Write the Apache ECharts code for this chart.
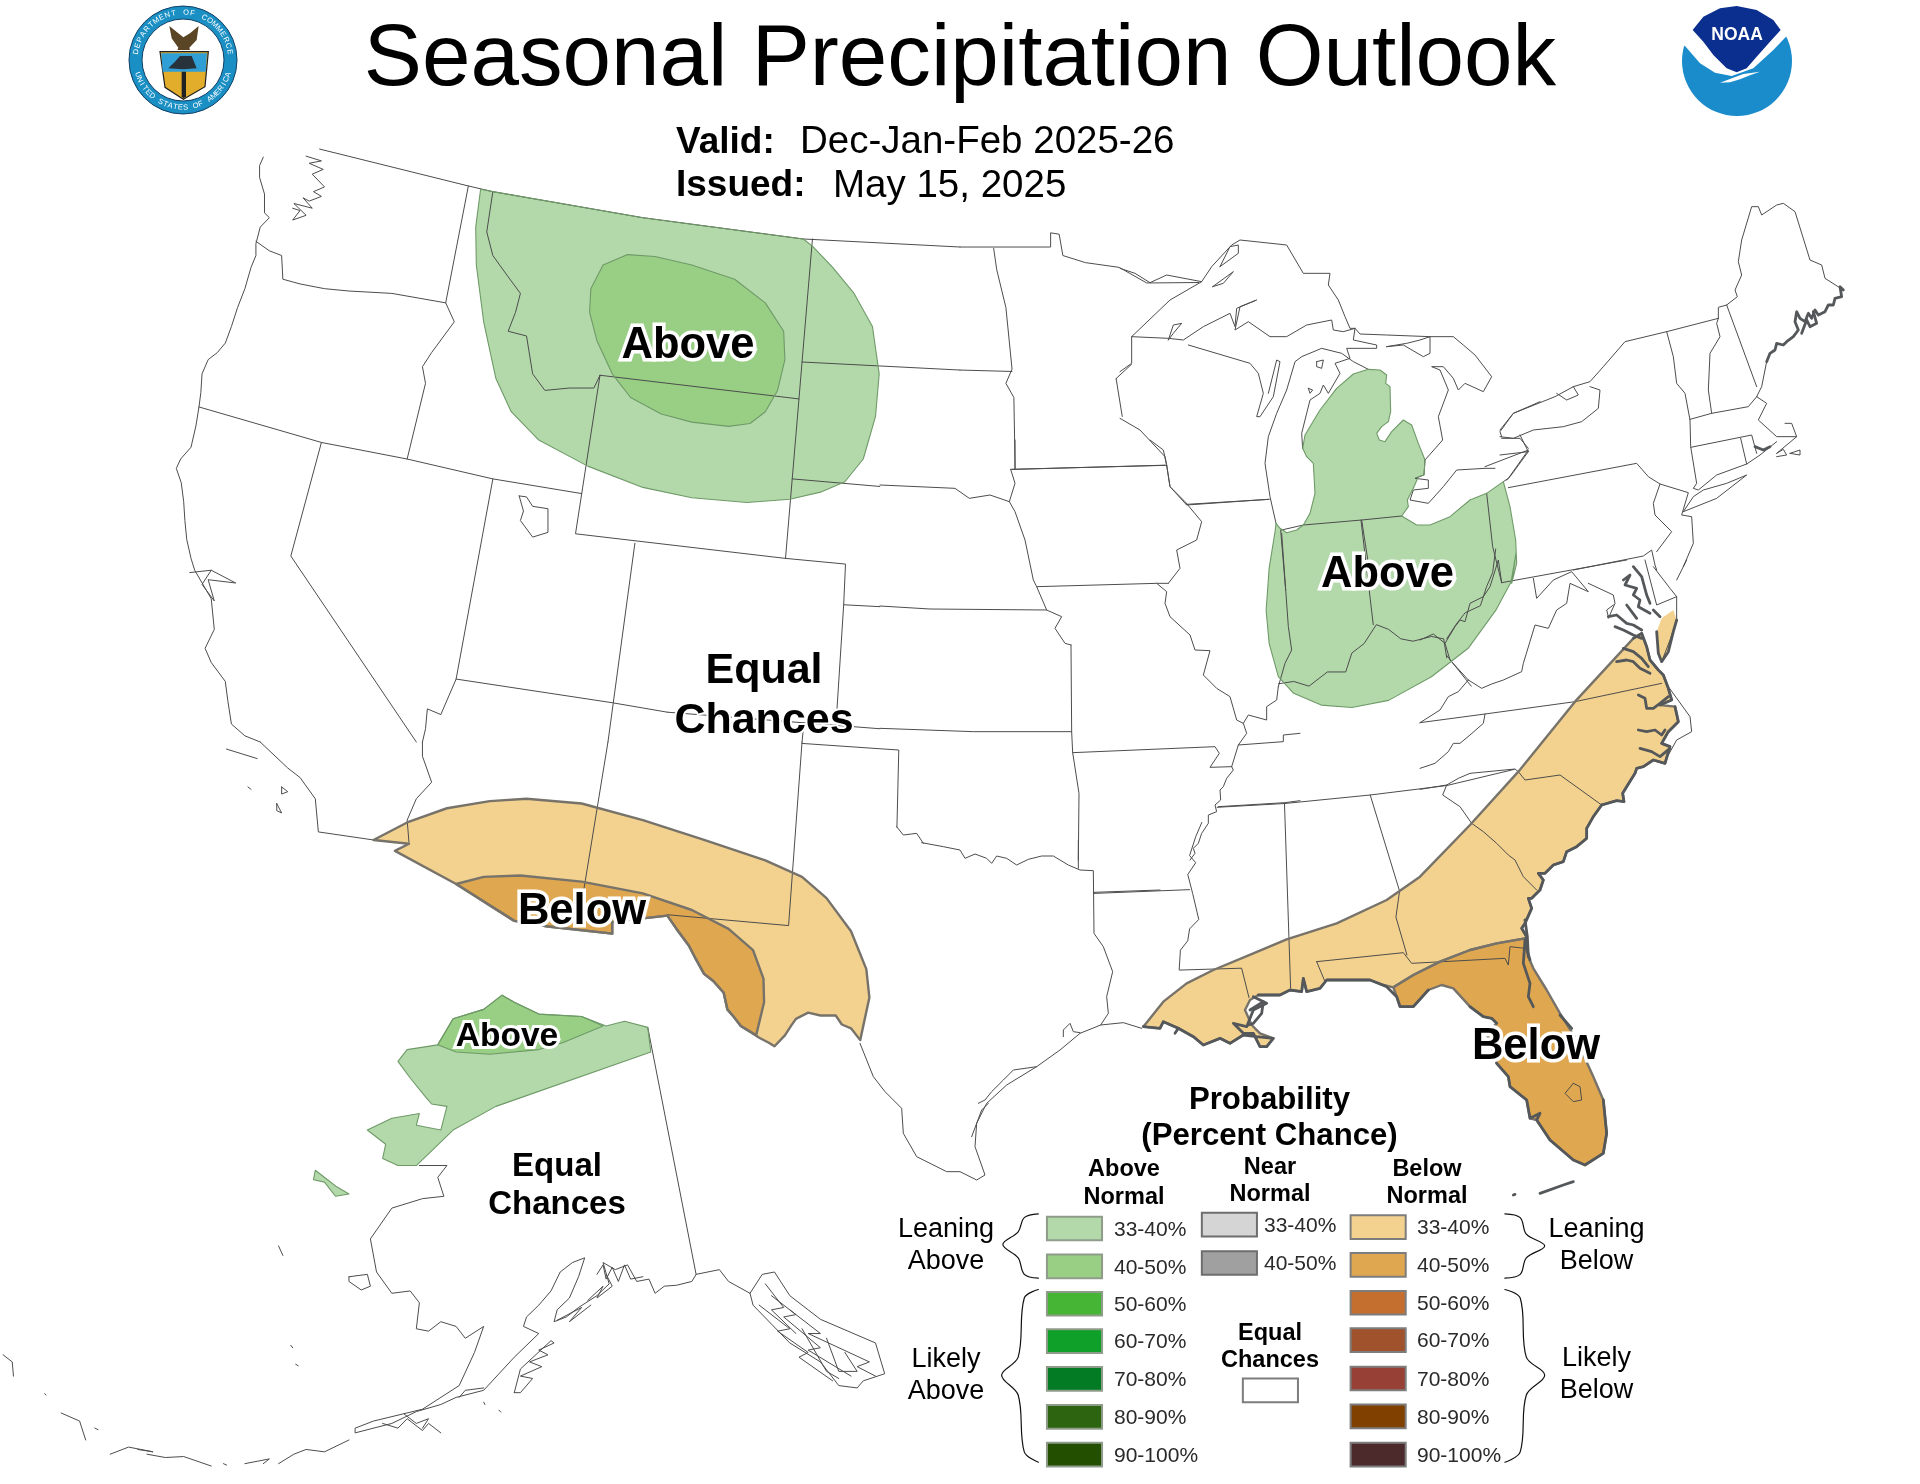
<!DOCTYPE html>
<html><head><meta charset="utf-8">
<style>html,body{margin:0;padding:0;background:#fff}#c{width:1920px;height:1484px}</style>
<script src="https://cdn.jsdelivr.net/npm/echarts@6/dist/echarts.min.js"></script>
</head><body><div id="c"></div>
<script>
// ---------- legend values ----------
const aboveBins=['33-40%','40-50%','50-60%','60-70%','70-80%','80-90%','90-100%'];
const nearBins=['33-40%','40-50%'];
const belowBins=['33-40%','40-50%','50-60%','60-70%','70-80%','80-90%','90-100%'];
const aboveColors=['#b3d9ab','#98cf85','#46b435','#0ea028','#037b25','#2c6410','#234f00'];
const nearColors=['#d5d5d5','#a0a0a0'];
const belowColors=['#f3d28f','#dfa74f','#c46f2f','#a0522d','#964036','#7f4000','#4c2a2c'];
const aboveRows=[1003,1083,1162,1241,1321,1401,1481];
const nearRows=[995,1076];
const belowRows=[1000,1080,1160,1239,1320,1400,1481];
// ---------- trace frames: [originX, originY, scaleX, scaleY] ----------
const SX=960/1568, SY=742/1568;
const frames={A:[0,0,SX,SY],B:[960,0,SX,SY],C:[0,742,SX,SY],D:[960,742,SX,SY],
 G:[1120,230,1/3,1/3],N:[1500,190,1/3,1/3],E:[1420,560,1/3,1/3],F:[1120,900,1/3,1/3],T:[860,840,1/3,1/3],M:[880,440,1/3,1/3],
 S:[100,0,1/3,1/3],O:[1660,0,1/3,1/3]};
// ---------- outlook areas ----------
const rioGrandeBigBend=[1405,630,1390,605,1375,597,1365,578,1340,578,1320,572,1300,585,1292,600,1282,620,1265,643,1255,635,1240,625];
const rioGrandeUpper=[1225,612,1210,600,1198,580,1188,565,1182,530,1165,505,1150,490,1135,455,1125,430,1105,395,1090,367];
const aboveNorth33=[['A',[785,400,777,480,778,560,790,680,810,800,835,870,880,930,960,985,1050,1030,1130,1052,1220,1062,1290,1055,1340,1040,1380,1018,1410,970,1430,880,1436,790,1425,690,1395,620,1360,565,1327,520,1312,505,1050,460,805,405]]];
const aboveNorth40=[['A',[1025,538,985,560,965,610,963,660,975,720,1000,790,1030,840,1080,875,1130,892,1190,901,1225,895,1250,870,1270,825,1282,760,1280,700,1250,640,1200,590,1130,560,1070,542]]];
const aboveLakes33=[['G',[555,615,600,540,650,475,700,432,745,418,780,420,800,435,797,460,810,470,812,545,805,575,785,590,770,610,778,630,795,635,815,605,850,570,875,585,895,640,915,690,912,735,895,740,880,775,862,810,865,830,845,858,890,885,930,885,990,860,1050,810,1100,790,1150,755,1170,830,1187,930,1190,1000,1175,1060]],
 ['B',[908,1170,900,1230,875,1290,830,1370,770,1430,700,1480,640,1495,590,1490,545,1465,520,1430,505,1360,500,1290,505,1200,515,1120]],
 ['G',[468,880,480,895,500,908,530,900,550,885,570,850,585,790,580,700,560,680,548,655]]];
const aboveAlaska33=[['C',[1058,603,1063,655,810,770,740,820,680,895,650,895,625,880,630,850,600,820,640,795,685,785,680,810,720,820,730,770,705,765,695,750,670,710,650,675,665,650,715,640,740,585,790,565,820,535,840,550,880,575,950,580,990,600,1020,590]]];
const aboveAlaska40=[['C',[715,640,740,585,790,565,820,535,840,550,880,575,950,580,985,600,920,635,880,650,800,660,745,655]]];
const aboveIsland33=[['C',[515,905,535,925,550,940,570,955,548,960,530,930,512,925]]];
const belowSW33=[['C',[610,207,665,170,730,140,800,125,860,120,950,130,1050,165,1150,207,1250,250,1310,285,1350,330,1390,400,1415,480,1420,540,...rioGrandeBigBend,...rioGrandeUpper,1000,380,1000,405,895,390,840,378,745,300,645,230,668,215]]];
const belowSW40=[['C',[745,300,790,285,850,282,950,295,1050,320,1130,355,1190,395,1230,440,1247,500,1248,550,1235,620,...rioGrandeUpper,1000,380,1000,405,895,390,840,378]]];
const belowSE33=[['E',[640,235,665,220,680,260,690,300,715,330,730,345,745,385,755,420,720,435,765,440,775,485,745,515,725,550,750,560,735,610,700,600,670,620,650,625,645,640,620,680,608,700,612,725,590,722,545,735,520,770,500,805,500,835,470,860,440,875,430,905,400,915,375,940,355,940,370,960,360,990,335,1015,325,1015,335,1045,315,1090,305,1105,320,1130]],
 ['F',[1215,115,1130,130,1050,150,960,185,880,225,820,262,790,255,750,240,690,240,640,240,620,240,600,265,560,275,550,235,545,275,510,270,480,285,415,285,390,300,375,330,395,375,420,400,460,415,440,440,420,440,400,400,370,405,330,430,300,415,250,435,220,410,175,385,130,365,120,385,70,380,130,305,200,250,280,210,400,160,500,118,650,70,800,0]],
 ['E',[0,950,150,795,295,635,465,425]]];
const belowDelmarva33=[['E',[760,150,725,175,710,215,715,280,725,305,745,275,760,215,770,180]]];
const belowFL40=[['F',[820,262,880,225,960,185,1050,150,1130,130,1215,115,1225,170,1240,205,1280,270,1320,340,1370,420,1420,530,1450,600,1460,700,1450,760,1395,795,1360,780,1290,720,1250,660,1230,655,1220,600,1170,560,1165,530,1130,490,1100,400,1130,370,1115,355,1090,350,1050,320,1000,265,965,255,925,270,880,320,840,320,830,290]]];
// ---------- thin borders and shorelines ----------
const thinLines=[
 ['A',[430,332,424,350,424,375,432,410,432,450,440,460,425,480,418,515,418,540,410,565,400,610,388,650,378,690,368,725,355,745,340,760,330,790,328,830,325,860,320,900,312,945,295,970,288,990,296,1020,300,1060,302,1100,305,1140,312,1180,318,1205,345,1265,350,1330,335,1370,345,1400,368,1440,372,1480,378,1530,400,1555,425,1568]],
 ['C',[425,0,470,55,490,75,515,120,520,190,610,207,668,215]],
 ['A',[418,510,440,530,460,540,462,590,490,600,530,610,570,615,640,620,728,640,742,680,705,745,690,775,695,810,665,970]],
 ['A',[522,315,765,393,805,405,1050,460,1312,505,1568,522]],
 ['B',[0,522,148,522,148,492,162,495,168,540,205,555,260,565,305,598,390,597]],
 ['A',[765,393,728,640]],
 ['A',[325,860,525,935,665,970,805,1012,950,1043]],
 ['A',[525,935,475,1175,680,1568]],
 ['A',[805,1012,745,1435,720,1510,698,1498,695,1540,690,1568]],
 ['C',[690,0,690,30,705,85,680,120,665,165,668,212]],
 ['A',[745,1435,1000,1485,1090,1505]],['A',[1090,1505,1437,1540]],['M',[0,865,280,875,575,875]],
 ['A',[805,405,795,490,805,540,830,585,850,620,842,660,830,700,860,710,870,790,890,825,930,820,970,820,980,793]],
 ['A',[980,793,1305,843,1283,1180,940,1128,980,793]],
 ['A',[1037,1148,993,1568]],['C',[993,0,945,380]],
 ['A',[1283,1180,1381,1192,1378,1278,1365,1540]],
 ['A',[1327,505,1310,765,1305,843]],
 ['A',[1310,765,1568,782]],['B',[0,782,85,785]],
 ['A',[1294,1012,1437,1028]],['M',[0,135,225,145,268,175,330,165,388,185]],
 ['A',[1378,1278,1437,1282]],['M',[0,498,150,507,500,510]],
 ['A',[1313,1528,1310,1568]],['C',[1310,0,1288,388,1090,365]],
 ['C',[1310,3,1468,17,1465,180]],
 ['M',[50,1160,70,1185,110,1180,130,1210]],
 ['T',[185,8,250,20,300,30,315,55,345,42,380,55,395,70,410,48,440,55,470,75,505,58,545,48,580,48,625,75,660,90,700,92,702,280,730,320,758,395,740,470,745,520,722,555,660,580,600,630,530,680,440,735,380,790,350,850,345,920,375,1005,350,1020,300,995,260,995,170,950,130,880,125,805,75,755,40,710,0,610]],
 ['T',[722,555,790,548,845,565]],
 ['T',[655,0,655,85]],
 ['T',[610,590,610,570,630,550,640,575,660,578]],
 ['T',[355,790,375,780,395,755,430,720,460,690,530,680]],
 ['T',[335,890,350,850,365,810,385,790]],
 ['M',[573,615,575,875,578,938,597,1060,595,1260]],
 ['M',[578,938,1005,920,1018,940,990,982,1055,980]],
 ['T',[700,157,900,150]],['D',[218,320,375,312]],
 ['M',[1055,980,1060,990,1040,1015,1030,1040,1020,1050,1022,1080,1005,1095,1010,1115,985,1125,985,1150,965,1180,955,1210,940,1225,945,1240,930,1260]],
 ['D',[395,170,385,200,375,240,385,255,372,280,380,320,390,375,375,395,372,420,360,440,358,482,460,478,472,540]],
 ['M',[1075,915,1210,905,1210,885,1260,880]],['E',[0,488,195,462,465,425,725,370]],
 ['M',[1015,1100,1215,1088,1260,1082]],['D',[420,138,530,130,670,112,795,92,905,58]],
 ['D',[530,130,540,520]],['D',[670,112,718,315,712,370,730,450]],
 ['F',[590,185,850,158,875,190,1155,175,1165,195,1170,140,1215,145]],['F',[590,185,615,245]],
 ['E',[155,790,190,815,230,850,265,885,285,900,310,950,350,990]],
 ['E',[295,635,315,660,420,645,545,735]],
 ['E',[0,688,80,675,115,655,150,640,285,627,295,635]],
 ['E',[80,675,68,705,120,740,155,790]],
 ['E',[0,625,45,610,85,575,100,550,120,550,150,525,190,490,195,462]],
 ['E',[0,488,60,450,85,410,115,395,145,360]],
 ['E',[145,360,90,300,75,250,40,222,0,240]],
 ['E',[145,360,185,385,215,372,250,360,305,335,310,310,345,195,385,205,410,150,440,130,450,70,505,95,455,35,400,60,350,115,340,55]],
 ['E',[505,70,580,105,585,130,565,175]],
 ['E',[245,68,620,0]],
 ['E',[75,250,105,200,120,180,135,185,150,130,190,110,210,80,235,0,245,68]],
 ['G',[1100,790,1118,950,1145,1058]],
 ['M',[830,430,860,455,855,490,870,530,930,585,945,630,990,632,970,705,1010,745,1050,770,1070,840,1090,850,1100,880,1075,915,1055,980]],
 ['M',[1090,850,1105,825,1160,840,1160,800,1190,780,1195,740]],
 ['M',[470,440,830,430,865,430]],
 ['M',[392,88,860,76]],
 ['M',[392,88,405,130,388,185,405,215,435,300,460,420,470,440,500,510,545,530,525,565,555,610,573,615]],
 ['M',[860,76,870,140,915,185,965,245,950,300,890,330,900,385,865,430]],
 ['M',[810,0,850,30,860,76]],
 ['M',[405,0,405,88]],
 ['M',[920,193,1168,178]],
 ['B',[55,525,60,570,75,650,85,780,75,810,88,840,90,990]],
 ['B',[85,992,335,983]],
 ['G',[35,320,35,400,0,425]],['B',[255,800,265,880]],['G',[0,565,60,600,135,680,140,705,150,770,200,825,445,808]],['B',[280,770,255,800]],
 ['G',[482,900,497,1080]],['M',[1205,280,1225,560,1235,630,1215,670,1195,740]],
 ['G',[725,870,745,1000]],['B',[655,1100,675,1320]],
 ['G',[485,900,550,885,725,870,845,858]],
 ['B',[520,1445,545,1440,570,1450,600,1420,630,1420,640,1380,660,1360,680,1320,700,1330,720,1350,740,1355,770,1345,790,1350,795,1390]],
 ['B',[795,1350,810,1320,825,1295,850,1280,860,1240,870,1210,875,1160]],
 ['B',[795,1385,835,1450]],
 ['G',[0,115,45,130,90,158,140,135,245,155,275,110,335,45,360,30,500,45,550,130,630,130,625,165,655,210,675,260,690,295,705,295,720,312,800,315,930,320,1000,320,1030,345,1065,375,1115,440,1090,485,1035,460,1015,480,1000,445,970,410,935,410,960,420,985,480,955,560,968,630,915,690]],
 ['G',[245,155,150,210,35,320,145,325,190,330,250,290,330,250,345,290,350,235,410,210,360,230,345,300,385,275,450,320,500,320,560,285,635,270,640,300,670,305,705,295]],
 ['G',[205,345,390,400,415,430,430,490,410,560,420,560,460,500,480,395,470,390,445,490]],
 ['G',[278,170,340,125,310,160,278,170]],
 ['G',[300,110,330,50,355,45,355,70,300,110]],
 ['G',[145,330,160,285,185,280,160,310,145,330]],
 ['G',[468,880,450,800,435,700,445,620,470,550,500,480,525,395,545,380,605,355,665,370,700,395,745,418]],
 ['G',[548,655,545,610,570,510,600,490,610,465,625,490,660,430,645,400,690,385,680,355,770,355,770,345,700,330,705,295]],
 ['G',[800,350,860,340,900,330,930,320,930,370,910,380,850,345,800,350]],
 ['G',[590,395,610,390,605,415,590,410,590,395]],['G',[565,475,578,480,570,490,565,475]],
 ['G',[915,690,912,735,885,745,925,750,925,775,880,780,870,810,925,820,970,770,1010,720,1095,715,1125,715]],
 ['G',[1095,710,1225,660,1165,745,1150,755]],
 ['G',[1145,620,1140,605,1180,550,1260,515]],['G',[1145,625,1200,625,1225,655]],
 ['N',[0,720,40,670,165,620,220,590,235,615,200,630,170,610]],
 ['N',[220,590,270,575,310,530,375,455,500,425,655,385]],
 ['N',[0,740,40,745,100,720,190,710,245,695,295,655,300,600,270,590]],
 ['N',[60,735,85,785,30,860,20,870]],['N',[0,795,85,785]],
 ['N',[25,893,410,820,445,860,480,882,565,908,545,975,575,980,580,1060,550,1130]],
 ['N',[480,882,460,940,465,975,515,1025,470,1085]],
 ['N',[220,1140,430,1098,455,1080,465,1125,470,1140]],
 ['N',[550,965,650,925,740,855,680,880,610,900,580,920,550,965]],
 ['N',[500,425,520,500,530,580,555,610,570,690,572,770,590,880,580,895,595,900,650,855,740,822,780,795,830,755]],
 ['N',[570,688,635,670,745,650,770,620,800,640,775,690,830,740,890,740,875,700,855,700]],
 ['N',[830,790,890,740]],['N',[722,745,740,822]],['N',[572,772,755,735,770,790]],
 ['N',[830,790,850,778,860,795,830,800]],['N',[870,790,900,780,900,795,870,790]],
 ['N',[655,385,650,400,660,440,630,490,625,600,635,670]],
 ['N',[680,345,770,590]],
 ['N',[655,385,655,352,680,345,712,320,705,300,725,255,715,215,725,150,755,50,775,50,785,75,830,45,850,40,885,65,930,210,965,225,975,265,1030,300]],
 ['N',[770,620,785,590,800,515]],
 ['E',[675,0,710,135,770,110,750,85,700,20]],['E',[800,0,770,60]],
 ['E',[770,110,770,180,750,240,725,305]],
 ['E',[745,380,810,470,815,515,770,540,745,585]],
 ['E',[565,170,560,150,580,135]],
 ['A',[848,1048,855,1080,850,1100,870,1135,895,1125,895,1075,870,1070,860,1050,848,1048]],
 ['F',[1360,550,1335,580,1360,605,1385,600,1380,560,1360,550]],
 ['A',[500,330,525,340,505,345,528,358,510,368,530,395,512,405,525,415,505,425,495,418,510,440,480,430,500,455,478,465,490,445,478,440]],
 ['A',[310,1210,345,1205,385,1232,340,1225,350,1270,330,1235,345,1205]],
 ['C',[370,15,395,25,420,35]],['C',[405,95,410,100]],['C',[460,95,470,105,460,110,460,95]],['C',[452,130,460,150,452,145,452,130]],
 // Alaska
 ['C',[1058,603,1137,1125,1175,1115,1190,1140,1225,1165,1245,1125,1265,1120,1290,1170,1340,1220,1430,1270,1445,1335,1410,1350,1400,1365,1370,1360,1340,1310,1290,1270,1260,1230,1230,1190,1225,1165]],
 ['C',[1260,1170,1300,1210,1280,1215,1340,1280,1320,1285,1390,1340]],['C',[1240,1190,1290,1240,1270,1245,1320,1290,1305,1300,1360,1350]],['C',[1290,1200,1340,1250,1320,1250,1420,1310,1400,1320,1430,1340]],['C',[1350,1260,1370,1330,1400,1330,1380,1290]],['C',[1310,1240,1350,1330,1370,1345]],['C',[1250,1145,1280,1195,1260,1200,1300,1250]],
 ['C',[1137,1125,1130,1140,1105,1148,1085,1150,1070,1165,1060,1135,1040,1140,1025,1105,1005,1115,985,1100,995,1145,975,1170,945,1195,925,1215,905,1225,910,1200,930,1175,945,1130,955,1090,935,1100,915,1120,900,1160,880,1190,860,1215,855,1235,880,1250,840,1300,790,1370,745,1385,720,1400,680,1415,640,1440,580,1460,580,1450,610,1435,690,1410,750,1360,775,1290,790,1235,760,1260,745,1235,720,1225,700,1245,680,1240,685,1185,670,1160,640,1165,615,1120,605,1050,640,985,690,965,725,960,715,920,730,895,685,895]],
 ['C',[975,1125,985,1105,990,1135,1000,1110,1010,1140,1020,1105,1030,1135,1050,1130]],
 ['C',[960,1180,985,1150,975,1175,1000,1150,990,1125]],['C',[910,1222,935,1205,950,1195,930,1225,965,1190]],
 ['C',[840,1375,850,1375,870,1345,850,1340,885,1320,865,1310,895,1295,880,1285,905,1270,900,1265,850,1325,840,1375]],
 ['C',[570,1130,600,1125,605,1150,590,1158,570,1140,570,1130]],['C',[455,1065,462,1085]],
 ['C',[100,1418,130,1435,140,1475]],['C',[240,1505,270,1512,300,1510,345,1530]],['C',[455,1525,480,1505,500,1495,530,1500,570,1475]],['C',[625,1440,650,1450,665,1430,690,1455,700,1440,720,1460]],['C',[660,1420,680,1440,700,1430,690,1450]],['C',[750,1385,760,1370,790,1365]],
 ['C',[5,1295,20,1310,22,1340]],['C',[180,1505,210,1490,250,1500,225,1495]],['C',[400,1525,420,1520,440,1515,430,1525]],
 ['C',[475,1275,478,1280]],['C',[483,1315,487,1318]],['C',[73,1377,75,1380]],['C',[155,1450,160,1453]],['C',[815,1412,818,1416]],['C',[790,1395,792,1400]],['C',[365,1525,370,1528]]
];
// ---------- heavy shorelines in the shaded south-east ----------
const heavyLines=[
 ['E',[640,235,665,220,680,260,690,300,715,330,730,345,745,385,755,420,720,435]],
 ['E',[655,405,675,415,680,445,700,445,720,430,745,410]],['E',[765,440,775,485,745,515,725,550,750,560,735,610,700,600,670,620,650,625,645,640,620,680,608,700,612,725,590,722,545,735]],
 ['E',[655,510,680,515,705,510,725,525,735,510]],['E',[660,565,695,575,720,590,750,565]],
 ['E',[590,305,620,300,640,305,660,325,690,340]],['E',[610,265,640,275,665,295,685,320]],
 ['E',[610,60,630,45,615,75,650,85,640,105,660,120,655,140,690,160]],['E',[640,20,665,50,680,105,690,130]],['E',[565,170,590,165,620,190,640,195,665,210]],['E',[585,200,610,210,640,225,665,235]],['E',[620,135,650,175]],
 ['E',[710,215,715,280,725,305,745,275,760,215,770,180]],
 ['E',[545,735,520,770,500,805,500,835,470,860,440,875,430,905,400,915,375,940,355,940,370,960,360,990,335,1015,325,1015,335,1045,315,1090,305,1105,320,1130,318,1160,330,1200]],
 ['F',[70,380,120,385,130,365,175,385,165,400]],
 ['F',[175,385,220,410,250,435,300,415,330,430,370,405,410,410,460,415,440,440,420,440,400,400,370,400,340,370,380,380,400,330,440,310,400,290]],
 ['F',[390,330,430,305,425,340,400,370,385,375]],
 ['F',[415,285,480,285,510,270,545,275,550,235,560,275,600,265,620,240,640,240,690,240,750,240,800,260,830,290,840,320,880,320,925,270]],
 ['F',[1050,320,1090,350,1115,355,1130,370]],
 ['F',[1130,490,1165,530,1170,560,1220,600,1230,655,1260,640,1250,660,1290,720,1360,780,1395,795,1450,760,1460,700,1450,600]],
 ['F',[1215,120,1210,190,1230,250,1225,290,1240,320]],['F',[1215,60,1222,110,1225,170]],
 ['F',[1320,345,1355,385]],
 ['F',[1180,885,1185,883]],['F',[1260,880,1330,855,1360,845]],
 ['N',[1030,300,1020,290,1025,320,1005,325,1000,345,985,345,975,365,955,375,945,360,935,385,925,370,915,395,900,385,890,365,885,395,895,420,880,440,860,455,850,465,830,460,825,480,810,490,800,515]],
 ['N',[940,365,950,400,930,410,920,390,905,430]],['N',[765,770,790,780,810,770]],
 ['E',[700,150,720,170]]
];
// ---------- logos ----------
const sealShield=[['S',[180,155,325,155,315,260,250,298,195,262]]];
const sealSky=[['S',[184,160,321,160,317,215,188,215]]];
const sealShip=[['S',[205,205,225,185,240,168,275,168,290,205,250,208]]];
const sealLight=[['S',[245,215,258,215,258,290,250,295,245,290]]];
const sealEagle=[['S',[208,78,235,100,250,112,270,100,296,78,290,120,268,143,270,150,232,150,235,143,215,115]]];
const noaaMask=[['O',[50,132,75,138,120,190,165,218,215,228,280,205,340,150,378,110,410,95,410,0,50,0]]];
const noaaNavy=[['O',[98,90,130,50,180,25,230,18,290,30,340,60,362,90,330,125,290,170,260,205,230,217,200,205,160,165,130,125]]];
const noaaBird=[['O',[180,248,220,233,250,222,300,215,270,226,240,238,210,247]]];
const sealTop='DEPARTMENT OF COMMERCE', sealBottom='UNITED STATES OF AMERICA';
// ---------- text ----------
const F='"Liberation Sans",Arial,sans-serif';
const texts=[
 ['Seasonal Precipitation Outlook',960,61,87.2,400,'center'],
 ['Valid:',676,142.5,37,700,'left'],['Dec-Jan-Feb 2025-26',800,142.5,38.5,400,'left'],
 ['Issued:',676,186,37,700,'left'],['May 15, 2025',833,186,38.5,400,'left'],
 ['Probability',1269.5,1100,31.2,700,'center'],['(Percent Chance)',1269.5,1136,31.2,700,'center'],
 ['Above',1124,1170,23.5,700,'center'],['Normal',1124,1198,23.5,700,'center'],
 ['Near',1270,1168,23.5,700,'center'],['Normal',1270,1195,23.5,700,'center'],
 ['Below',1427,1170,23.5,700,'center'],['Normal',1427,1197,23.5,700,'center'],
 ['Equal',1270,1334,23.5,700,'center'],['Chances',1270,1361,23.5,700,'center'],
 ['Leaning',946,1230,27,400,'center'],['Above',946,1262,27,400,'center'],
 ['Likely',946,1360,27,400,'center'],['Above',946,1392,27,400,'center'],
 ['Leaning',1596.5,1230,27,400,'center'],['Below',1596.5,1262,27,400,'center'],
 ['Likely',1596.5,1359,27,400,'center'],['Below',1596.5,1391,27,400,'center'],
 ['Equal',557,1167,33,700,'center'],['Chances',557,1205,33,700,'center']
];
const haloTexts=[['Equal',764,671,43,4],['Chances',764,721,43,4],['Above',688,346,43.5,7],['Above',1387.5,575,43.5,7],['Below',582,912,43.5,7],['Below',1536,1046.5,43.5,7],['Above',507,1036.5,33.5,6]];
const braces=[
 [128,997,105,1005,95,1035,70,1062,95,1090,105,1125,128,1133],
 [128,1157,105,1175,95,1300,68,1338,95,1380,105,1500,128,1522],
 [890,997,915,1005,925,1040,955,1065,925,1090,915,1125,890,1133],
 [890,1157,915,1175,925,1300,955,1338,925,1380,915,1500,890,1522]
];

// ---------- build ----------
function pts(tr){const out=[];tr.forEach(([f,a])=>{const t=frames[f];for(let i=0;i<a.length;i+=2)out.push([t[0]+a[i]*t[2],t[1]+a[i+1]*t[3]]);});return out;}
const GL='#6f9a68',TL='#77736a';
const fills=[
 [aboveNorth33,aboveColors[0]],[aboveNorth40,aboveColors[1]],[aboveLakes33,aboveColors[0]],
 [aboveAlaska33,aboveColors[0]],[aboveAlaska40,aboveColors[1]],[aboveIsland33,aboveColors[0]],
 [belowSW33,belowColors[0]],[belowSW40,belowColors[1]],[belowSE33,belowColors[0]],[belowDelmarva33,belowColors[0]],[belowFL40,belowColors[1]]
];
const outlines=[
 [aboveNorth33,GL,1.1],[aboveNorth40,GL,1.1],[aboveLakes33,GL,1.1],[aboveAlaska33,GL,1.1],[aboveAlaska40,GL,1.1],[aboveIsland33,GL,1.1],
 [belowSW33,TL,2.4],[belowSW40,TL,2.4],[belowSE33,TL,2.4],[belowFL40,TL,2.4]
];
const items=[];
fills.forEach(([tr,c])=>items.push({k:'poly',p:pts(tr),fill:c}));
thinLines.forEach(tr=>items.push({k:'line',p:pts([tr]),stroke:'#4d4d4d',w:1}));
outlines.forEach(([tr,c,w])=>items.push({k:'ring',p:pts(tr),stroke:c,w}));
heavyLines.forEach(tr=>items.push({k:'line',p:pts([tr]),stroke:'#55585a',w:2.8}));
function swatch(x,y,c,st){const t=frames.D;items.push({k:'poly',p:[[t[0]+x*t[2],t[1]+y*t[3]],[t[0]+(x+90)*t[2],t[1]+y*t[3]],[t[0]+(x+90)*t[2],t[1]+(y+50)*t[3]],[t[0]+x*t[2],t[1]+(y+50)*t[3]]],fill:c,stroke:st,w:2});
 return t[1]+(y+25)*t[3]+1.5;}
aboveColors.forEach((c,i)=>{const y=swatch(142,aboveRows[i],c,'#8f9c8a');items.push({k:'text',t:aboveBins[i],x:1114,y,s:21,wt:400,a:'left',c:'#2a2a2a'});});
nearColors.forEach((c,i)=>{const y=swatch(395,nearRows[i],c,'#6e6e6e');items.push({k:'text',t:nearBins[i],x:1264,y,s:21,wt:400,a:'left',c:'#2a2a2a'});});
belowColors.forEach((c,i)=>{const y=swatch(638,belowRows[i],c,'#7d7d7d');items.push({k:'text',t:belowBins[i],x:1417,y,s:21,wt:400,a:'left',c:'#2a2a2a'});});
swatch(462,1345,'#ffffff','#7d7d7d');
braces.forEach(a=>items.push({k:'curve',p:pts([['D',a]]),stroke:'#111',w:1.2}));
texts.forEach(t=>items.push({k:'text',t:t[0],x:t[1],y:t[2],s:t[3],wt:t[4],a:t[5],c:'#000'}));
haloTexts.forEach(t=>items.push({k:'text',t:t[0],x:t[1],y:t[2],s:t[3],wt:700,a:'center',c:'#000',halo:t[4]}));
// seal
const scx=183,scy=60;
items.push({k:'disc',x:scx,y:scy,r:54,fill:'#1a8fc4',stroke:'#123f66',w:1});
items.push({k:'disc',x:scx,y:scy,r:41,fill:'#ffffff',stroke:'#123f66',w:1});
items.push({k:'poly',p:pts(sealShield),fill:'#e2ad2b',stroke:'#222',w:1.2});
items.push({k:'poly',p:pts(sealSky),fill:'#2f9fd6'});
items.push({k:'poly',p:pts(sealShip),fill:'#27323a'});
items.push({k:'poly',p:pts(sealLight),fill:'#222'});
items.push({k:'poly',p:pts(sealEagle),fill:'#5a4526'});
[...sealTop].forEach((ch,i)=>{const th=(-80+160*i/(sealTop.length-1))*Math.PI/180;items.push({k:'text',t:ch,x:scx+47.5*Math.sin(th),y:scy-47.5*Math.cos(th),s:7.5,wt:400,a:'center',c:'#fff',rot:-th});});
[...sealBottom].forEach((ch,i)=>{const ph=(-72+144*i/(sealBottom.length-1))*Math.PI/180;items.push({k:'text',t:ch,x:scx+47.5*Math.sin(ph),y:scy+47.5*Math.cos(ph),s:7.5,wt:400,a:'center',c:'#fff',rot:ph});});
// noaa
items.push({k:'disc',x:1737,y:61,r:55,fill:'#1a8ccb'});
items.push({k:'poly',p:pts(noaaMask),fill:'#ffffff'});
items.push({k:'poly',p:pts(noaaNavy),fill:'#0b2f8e'});
items.push({k:'poly',p:pts(noaaBird),fill:'#ffffff'});
items.push({k:'text',t:'NOAA',x:1737,y:35,s:17.5,wt:700,a:'center',c:'#fff'});

function render(params,api){
 const it=items[params.dataIndex];
 if(it.k==='text'){const o=api.coord([it.x,it.y]);
  const st={text:it.t,x:0,y:0,fill:it.c,font:`${it.wt} ${it.s}px ${F}`,align:it.a,verticalAlign:'middle'};
  if(it.halo){st.stroke='#fff';st.lineWidth=it.halo;st.lineJoin='round';}
  return {type:'text',x:o[0],y:o[1],rotation:it.rot||0,style:st};}
 if(it.k==='disc'){const o=api.coord([it.x,it.y]);const r=api.size([it.r,0])[0];
  return {type:'circle',shape:{cx:o[0],cy:o[1],r},style:{fill:it.fill,stroke:it.stroke||null,lineWidth:it.w||0}};}
 const p=it.p.map(q=>api.coord(q));
 if(it.k==='poly')return {type:'polygon',shape:{points:p},style:{fill:it.fill,stroke:it.stroke||null,lineWidth:it.w||0}};
 if(it.k==='ring')return {type:'polygon',shape:{points:p},style:{fill:null,stroke:it.stroke,lineWidth:it.w,lineJoin:'round'}};
 return {type:'polyline',shape:{points:p,smooth:it.k==='curve'?0.35:0},style:{fill:null,stroke:it.stroke,lineWidth:it.w,lineJoin:'round',lineCap:'round'}};
}
const chart=echarts.init(document.getElementById('c'),null,{renderer:'canvas',width:1920,height:1484});
chart.setOption({animation:false,backgroundColor:'#fff',
 grid:{left:0,right:0,top:0,bottom:0,containLabel:false},
 xAxis:{type:'value',min:0,max:1920,show:false},
 yAxis:{type:'value',min:0,max:1484,inverse:true,show:false},
 series:[{type:'custom',coordinateSystem:'cartesian2d',silent:true,clip:false,renderItem:render,data:items.map((_,i)=>[i,0]),encode:{x:0,y:1}}]
});
</script></body></html>
